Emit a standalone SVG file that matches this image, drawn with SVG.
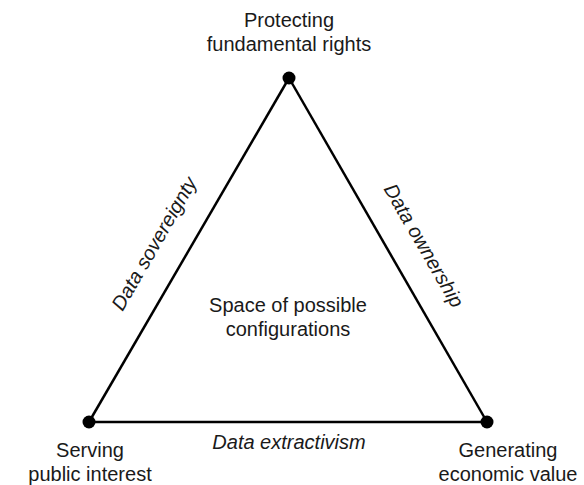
<svg xmlns="http://www.w3.org/2000/svg" width="584" height="485" viewBox="0 0 584 485">
  <style>
    text { font-family: "Liberation Sans", Arial, sans-serif; font-size: 20px; fill: #1a1a1a; text-anchor: middle; }
    .edge-label { font-style: italic; }
    .edge { stroke: #000; stroke-width: 2.5; fill: none; }
    .vertex { fill: #000; }
  </style>
  <rect width="584" height="485" fill="#fff"/>

  <!-- triangle edges -->
  <g id="connectors">
    <line class="edge" x1="289" y1="78" x2="89" y2="422"/>
    <line class="edge" x1="289" y1="78" x2="487" y2="422"/>
    <line class="edge" x1="89" y1="422" x2="487" y2="422"/>
    <text class="edge-label" transform="translate(160,247) rotate(-60)">Data sovereignty</text>
    <text class="edge-label" transform="translate(418,249) rotate(60)">Data ownership</text>
    <text class="edge-label" x="289" y="449">Data extractivism</text>
  </g>

  <g id="node-rights">
    <circle class="vertex" cx="289" cy="78" r="6.5"/>
    <text x="289" y="27">Protecting</text>
    <text x="289" y="51">fundamental rights</text>
  </g>

  <g id="node-public">
    <circle class="vertex" cx="89" cy="422" r="6.5"/>
    <text x="90" y="457">Serving</text>
    <text x="90" y="481">public interest</text>
  </g>

  <g id="node-economic">
    <circle class="vertex" cx="487" cy="422" r="6.5"/>
    <text x="508" y="457">Generating</text>
    <text x="508" y="481">economic value</text>
  </g>

  <g id="node-space">
    <text x="288" y="312">Space of possible</text>
    <text x="288" y="336">configurations</text>
  </g>
</svg>
